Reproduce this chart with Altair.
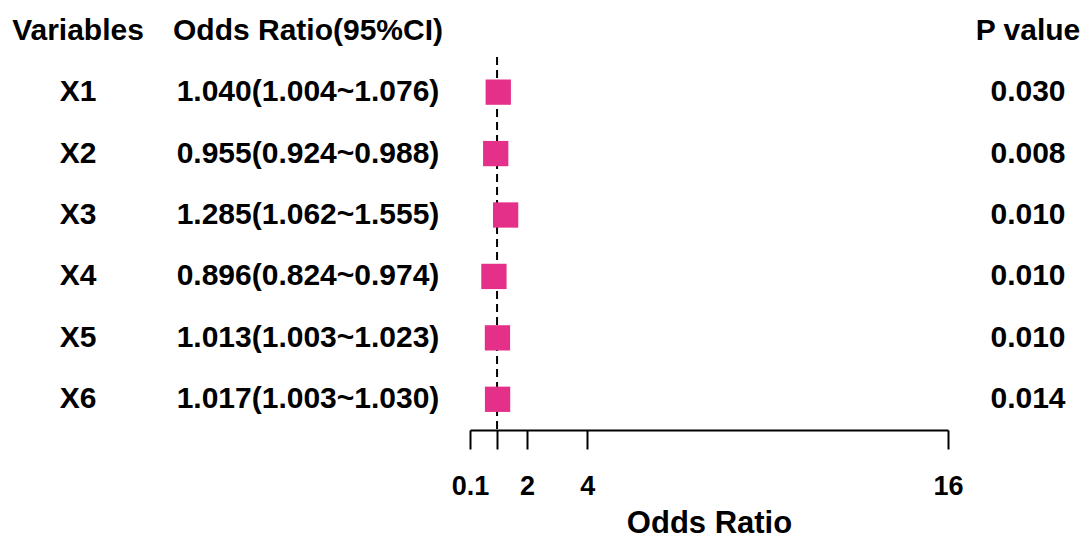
import altair as alt
import pandas as pd

variables = ["X1", "X2", "X3", "X4", "X5", "X6"]
or_vals = [1.040, 0.955, 1.285, 0.896, 1.013, 1.017]
ci_low = [1.004, 0.924, 1.062, 0.824, 1.003, 1.003]
ci_high = [1.076, 0.988, 1.555, 0.974, 1.023, 1.030]
p_vals = ["0.030", "0.008", "0.010", "0.010", "0.010", "0.014"]
tick_values = [0.1, 1, 2, 4, 16]
headers = ["Variables", "Odds Ratio(95%CI)", "P value"]

rows = ["header"] + variables
FONT = "Liberation Sans"
PINK = "#E5308A"

df = pd.DataFrame({
    "row": variables,
    "or": or_vals,
    "lo": ci_low,
    "hi": ci_high,
    "ortext": [f"{o:.3f}({l:.3f}~{h:.3f})" for o, l, h in zip(or_vals, ci_low, ci_high)],
    "p": p_vals,
})
hdr = pd.DataFrame({"row": ["header"], "v": [headers[0]], "o": [headers[1]], "p": [headers[2]]})

yenc = alt.Y("row:N", scale=alt.Scale(type="point", domain=rows, padding=0.5), axis=None)
xscale = alt.Scale(domain=[0.1, 16], nice=False, zero=False)

base = alt.Chart(df)

ref = alt.Chart(pd.DataFrame({"x": [1]})).mark_rule(
    color="black", strokeWidth=2, strokeDash=[8, 5]
).encode(
    x=alt.X("x:Q", scale=xscale,
            axis=alt.Axis(values=tick_values, title="Odds Ratio",
                          labelExpr="datum.value == 1 ? '' : toString(datum.value)")),
    y=alt.value(57), y2=alt.value(430),
)

err = base.mark_rule(color="black", strokeWidth=2).encode(
    x=alt.X("lo:Q", scale=xscale), x2="hi:Q", y=yenc
)
sq = base.mark_square(size=640, color=PINK, opacity=1).encode(
    x=alt.X("or:Q", scale=xscale), y=yenc
)

tstyle = dict(font=FONT, fontWeight="bold", fontSize=30, color="black",
              baseline="middle", align="center")

t_var = base.mark_text(**tstyle).encode(text="row:N", y=yenc, x=alt.value(78 - 470))
t_or = base.mark_text(**tstyle).encode(text="ortext:N", y=yenc, x=alt.value(308 - 470))
t_p = base.mark_text(**tstyle).encode(text="p:N", y=yenc, x=alt.value(1028 - 470))

hb = alt.Chart(hdr)
h_var = hb.mark_text(**tstyle).encode(text="v:N", y=yenc, x=alt.value(78 - 470))
h_or = hb.mark_text(**tstyle).encode(text="o:N", y=yenc, x=alt.value(308 - 470))
h_p = hb.mark_text(**tstyle).encode(text="p:N", y=yenc, x=alt.value(1028 - 470))

chart = alt.layer(ref, err, sq, t_var, t_or, t_p, h_var, h_or, h_p).properties(
    width=478, height=430,
    autosize=alt.AutoSizeParams(type="none"),
    padding={"left": 470, "top": 0, "right": 138, "bottom": 108},
    background="white",
).configure_view(strokeWidth=0).configure_axis(
    grid=False,
    domainColor="black", domainWidth=2,
    tickColor="black", tickWidth=2, tickSize=19,
    labelFont=FONT, labelFontWeight="bold", labelFontSize=27, labelColor="black",
    labelPadding=24, labelFlush=False, labelOverlap=False,
    titleFont=FONT, titleFontWeight="bold", titleFontSize=31, titleColor="black",
    titleBaseline="alphabetic", titleY=102,
)

chart.save("out.html", embed_options={"renderer": "svg", "actions": False})
